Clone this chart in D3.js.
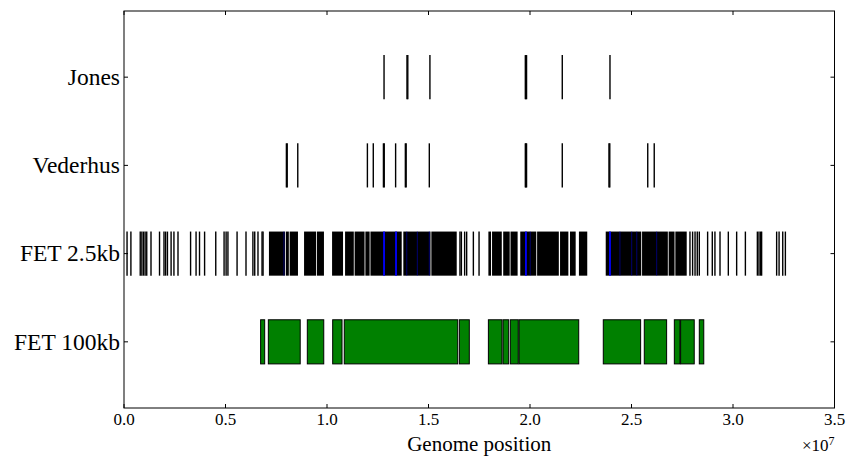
<!DOCTYPE html>
<html>
<head>
<meta charset="utf-8">
<script src="https://cdn.jsdelivr.net/npm/d3@7"></script>
<style>
  body { margin: 0; background: #fff; }
  text { font-family: "Liberation Serif", "Times New Roman", serif; }
</style>
</head>
<body>
<div id="chart"></div>
<script>
// rows, bottom to top
const rowNames = ["FET 100kb", "FET 2.5kb", "Vederhus", "Jones"];
const xTickVals = [0, 0.5, 1.0, 1.5, 2.0, 2.5, 3.0, 3.5]; // x 1e7

// positions in Mb
const jonesSnps = [12.81, 13.94, 13.98, 15.07, 19.77, 19.80, 19.83, 21.59, 23.94];
const vederhusSnps = [8.00, 8.04, 8.56, 11.99, 12.28, 12.78, 12.82, 13.38, 13.86, 13.90,
  15.04, 19.77, 19.80, 19.83, 21.59, 23.89, 23.93, 25.80, 26.12];

// FET 2.5kb: isolated significant windows
const fet25Windows = [0.15, 0.34, 0.80, 0.88, 0.96, 1.04, 1.12, 1.33, 1.75, 1.97, 2.05, 2.14,
  2.32, 2.46, 2.66, 3.28, 3.55, 3.72, 3.97, 4.52, 4.93, 5.03, 5.12, 5.57, 6.01, 6.35, 6.44,
  6.60, 6.80, 6.85, 16.55, 16.62, 16.78, 16.88, 17.21, 17.49, 27.88, 28.01, 28.13, 28.24,
  28.34, 28.75, 28.98, 29.11, 29.36, 29.77, 30.18, 30.61, 31.20, 31.28, 31.36, 31.41,
  32.15, 32.27, 32.45, 32.58];
// FET 2.5kb: runs of adjacent significant windows [start, end]
const fet25Runs = [[7.14, 7.93], [7.97, 8.12], [8.16, 8.57], [8.87, 9.46], [9.50, 9.85],
  [10.25, 10.79], [10.89, 11.32], [11.36, 11.85], [11.89, 12.10], [12.14, 13.68],
  [13.76, 15.10], [15.14, 16.39], [17.95, 18.08], [18.13, 18.61], [18.68, 19.00],
  [19.04, 19.39], [19.52, 20.31], [20.35, 21.42], [21.48, 21.89], [21.97, 22.25],
  [22.41, 22.82], [23.73, 25.48], [25.52, 26.79], [26.83, 27.12], [27.16, 27.72]];
// FET 2.5kb windows shared with SNP sets
const fet25Shared = [12.81, 13.40, 19.80, 23.94];
const fet25SharedDim = [7.88, 13.93, 14.45, 15.04, 20.01, 24.43, 25.01, 25.26, 26.24];

// FET 100kb blocks [start, end]
const fet100Blocks = [[6.73, 6.93], [7.11, 8.68], [9.03, 9.84], [10.28, 10.74], [10.85, 16.44],
  [16.52, 17.01], [17.95, 18.62], [18.67, 18.95], [19.03, 19.42], [19.46, 22.40],
  [23.61, 25.45], [25.63, 26.73], [27.11, 27.39], [27.42, 28.09], [28.34, 28.56]];

const W = 848, H = 457;
const m = { top: 11, right: 13.5, bottom: 49, left: 124 };
const iw = W - m.left - m.right, ih = H - m.top - m.bottom;

const svg = d3.select("#chart").append("svg").attr("width", W).attr("height", H);
const g = svg.append("g").attr("transform", `translate(${m.left},${m.top})`);

const x = d3.scaleLinear().domain([0, 35]).range([0, iw]);
const y = d3.scaleLinear().domain([0.25, 4.75]).range([ih, 0]);
const half = 0.25;

function ticksRow(arr, row, color, width, opacity) {
  g.append("g").selectAll("line").data(arr).enter().append("line")
    .attr("x1", d => x(d)).attr("x2", d => x(d))
    .attr("y1", y(row + half)).attr("y2", y(row - half))
    .attr("stroke", color).attr("stroke-width", width)
    .attr("opacity", opacity);
}

// Jones / Vederhus
ticksRow(jonesSnps, 4, "#000", 1.4, 1);
ticksRow(vederhusSnps, 3, "#000", 1.4, 1);

// FET 2.5kb
g.append("g").selectAll("rect").data(fet25Runs).enter().append("rect")
  .attr("x", d => x(d[0])).attr("width", d => x(d[1]) - x(d[0]))
  .attr("y", y(2 + half)).attr("height", y(2 - half) - y(2 + half))
  .attr("fill", "#000");
ticksRow(fet25Windows, 2, "#000", 1.4, 1);
ticksRow(fet25SharedDim, 2, "#0000cc", 1, 0.55);
ticksRow(fet25Shared, 2, "#0000ff", 1.8, 1);

// FET 100kb
g.append("g").selectAll("rect").data(fet100Blocks).enter().append("rect")
  .attr("x", d => x(d[0])).attr("width", d => x(d[1]) - x(d[0]))
  .attr("y", y(1 + half)).attr("height", y(1 - half) - y(1 + half))
  .attr("fill", "#008000").attr("stroke", "#000").attr("stroke-width", 1);

// frame
g.append("rect").attr("x", 0).attr("y", 0).attr("width", iw).attr("height", ih)
  .attr("fill", "none").attr("stroke", "#000").attr("stroke-width", 1);

// ticks (inward, all four sides)
const tl = 4;
const yt = [1, 2, 3, 4];
g.append("g").selectAll("line").data(yt).enter().append("line")
  .attr("x1", 0).attr("x2", tl).attr("y1", d => y(d)).attr("y2", d => y(d)).attr("stroke", "#000");
g.append("g").selectAll("line").data(yt).enter().append("line")
  .attr("x1", iw).attr("x2", iw - tl).attr("y1", d => y(d)).attr("y2", d => y(d)).attr("stroke", "#000");
g.append("g").selectAll("line").data(xTickVals).enter().append("line")
  .attr("x1", d => x(d * 10)).attr("x2", d => x(d * 10)).attr("y1", ih).attr("y2", ih - tl).attr("stroke", "#000");
g.append("g").selectAll("line").data(xTickVals).enter().append("line")
  .attr("x1", d => x(d * 10)).attr("x2", d => x(d * 10)).attr("y1", 0).attr("y2", tl).attr("stroke", "#000");

// y labels
g.append("g").selectAll("text").data(rowNames).enter().append("text")
  .attr("x", -4).attr("y", (d, i) => y(i + 1)).attr("dy", "0.33em")
  .attr("text-anchor", "end").attr("font-size", 23.5).attr("fill", "#000")
  .text(d => d);

// x tick labels
g.append("g").selectAll("text").data(xTickVals).enter().append("text")
  .attr("x", d => x(d * 10)).attr("y", ih + 17)
  .attr("text-anchor", "middle").attr("font-size", 17).attr("fill", "#000")
  .text(d => d.toFixed(1));

// axis label
g.append("text").attr("x", iw / 2).attr("y", ih + 43)
  .attr("text-anchor", "middle").attr("font-size", 21).attr("fill", "#000")
  .text("Genome position");

// offset text
const off = g.append("text").attr("x", iw).attr("y", ih + 43)
  .attr("text-anchor", "end").attr("font-size", 17).attr("fill", "#000");
off.append("tspan").text("×10");
off.append("tspan").attr("dy", -6).attr("font-size", 12).text("7");
</script>
</body>
</html>
